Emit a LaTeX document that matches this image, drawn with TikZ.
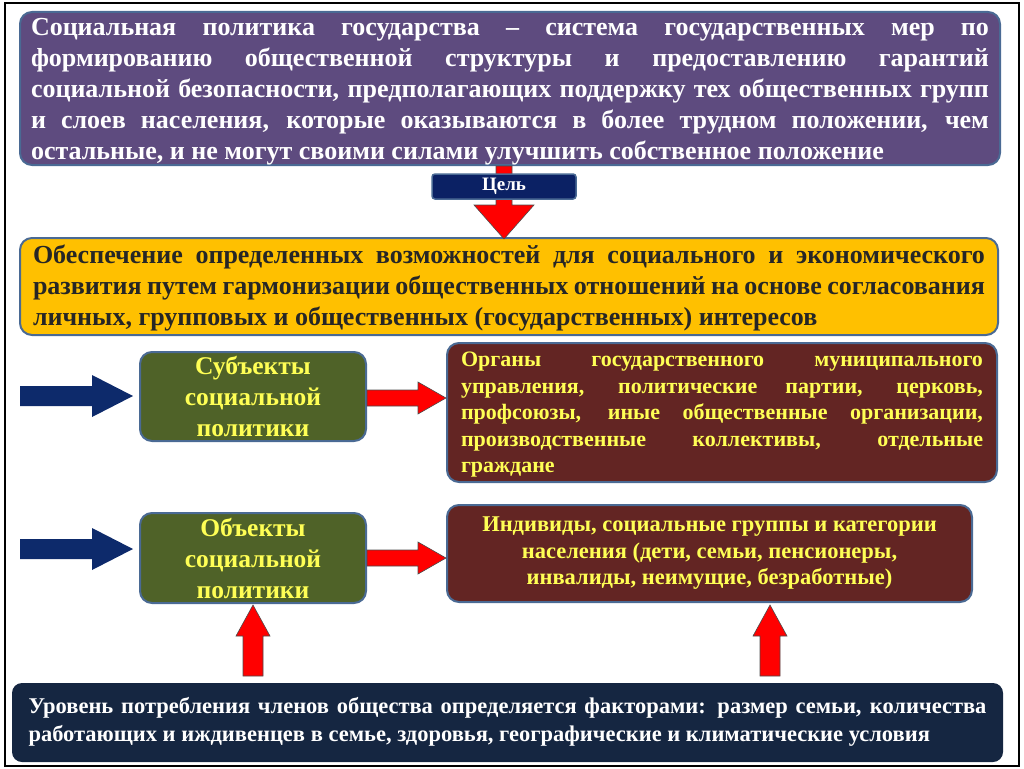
\documentclass[tikz,border=0pt]{standalone}
\usepackage{fontspec}
\setmainfont{Liberation Serif}
\definecolor{purp}{HTML}{5E4B7F}
\definecolor{bord}{HTML}{4A6A94}
\definecolor{navy}{HTML}{0B2164}
\definecolor{gold}{HTML}{FFC000}
\definecolor{olive}{HTML}{4F6228}
\definecolor{maroon}{HTML}{632523}
\definecolor{yel}{HTML}{FFFF55}
\definecolor{dark}{HTML}{152641}
\definecolor{arrblue}{HTML}{0D2A6B}
\begin{document}
\begin{tikzpicture}[x=1pt,y=-1pt,
  box/.style={draw=bord,line width=2pt,rounded corners=12pt,inner sep=0pt,font=\bfseries},
  redarr/.style={fill=red,draw=black!70,line width=0.6pt},
  bluearr/.style={fill=arrblue,draw=none}]
\useasboundingbox (0,0) rectangle (1024,768);
\draw[black,line width=1.5pt] (5,3) rectangle (1019,766);
% top box
\node[box,fill=purp,text=white,minimum width=980pt,minimum height=153pt] (top) at (510,88.5) {};
\node[text width=958pt,align=justify,font=\bfseries\fontsize{26}{31}\selectfont,text=white,inner sep=0pt] at (510,92) {Социальная политика государства – система государственных мер по формированию общественной структуры и предоставлению гарантий социальной безопасности, предполагающих поддержку тех общественных групп и слоев населения, которые оказываются в более трудном положении, чем остальные, и не могут своими силами улучшить собственное положение};
% goal box
\node[box,fill=gold,minimum width=978pt,minimum height=97pt] (goal) at (509,286.5) {};
\node[text width=952pt,align=justify,font=\bfseries\fontsize{26}{31}\selectfont,text=black!85,inner sep=0pt] at (509,288) {Обеспечение определенных возможностей для социального и экономического развития путем гармонизации общественных отношений на основе согласования личных, групповых и общественных (государственных) интересов};
% red arrow down
\draw[redarr] (496,166) -- (512,166) -- (512,205) -- (534,205) -- (504,239) -- (474,205) -- (496,205) -- cycle;
\node[draw=bord,line width=1.5pt,rounded corners=3pt,fill=navy,text=white,font=\bfseries\fontsize{19}{20}\selectfont,minimum width=144pt,minimum height=25pt,inner sep=0pt] (cel) at (504,186.5) {Цель};
% subjects
\node[box,fill=olive,text=yel,minimum width=226pt,minimum height=89pt,align=center,font=\bfseries\fontsize{25.5}{31}\selectfont] (subj) at (253,396.5) {Субъекты\\социальной\\политики};
\node[box,fill=maroon,minimum width=550pt,minimum height=139pt] (org) at (722,412.5) {};
\node[text width=522pt,align=justify,text=yel,font=\bfseries\fontsize{22}{26.5}\selectfont,inner sep=0pt] at (722,415) {Органы государственного муниципального управления, политические партии, церковь, профсоюзы, иные общественные организации, производственные коллективы, отдельные граждане};
% objects
\node[box,fill=olive,text=yel,minimum width=226pt,minimum height=90pt,align=center,font=\bfseries\fontsize{25.5}{31}\selectfont] (obj) at (253,558) {Объекты\\социальной\\политики};
\node[box,fill=maroon,text=yel,minimum width=525pt,minimum height=97pt,align=center,font=\bfseries\fontsize{22.5}{26.5}\selectfont] (ind) at (709.5,553.5) {Индивиды, социальные группы и категории\\населения (дети, семьи, пенсионеры,\\инвалиды, неимущие, безработные)};
% bottom
\node[box,draw=none,fill=dark,rounded corners=10pt,minimum width=991pt,minimum height=79pt] (bot) at (507.5,722.5) {};
\node[text width=958pt,align=justify,text=white,font=\bfseries\fontsize{22.5}{28}\selectfont,inner sep=0pt] at (507.5,722) {Уровень потребления членов общества определяется факторами: размер семьи, количества работающих и иждивенцев в семье, здоровья, географические и климатические условия};
% blue arrows
\foreach \y in {396,549}{
  \fill[bluearr] (20,\y-10) -- (92,\y-10) -- (92,\y-21) -- (133,\y) -- (92,\y+21) -- (92,\y+10) -- (20,\y+10) -- cycle;}
% red right arrows
\foreach \y in {398,558}{
  \draw[redarr] (367,\y-8) -- (418,\y-8) -- (418,\y-16) -- (446,\y) -- (418,\y+16) -- (418,\y+8) -- (367,\y+8) -- cycle;}
% red up arrows
\foreach \x in {253,770}{
  \draw[redarr] (\x-10,676) -- (\x-10,636) -- (\x-17,636) -- (\x,605) -- (\x+17,636) -- (\x+10,636) -- (\x+10,676) -- cycle;}
\end{tikzpicture}
\end{document}
